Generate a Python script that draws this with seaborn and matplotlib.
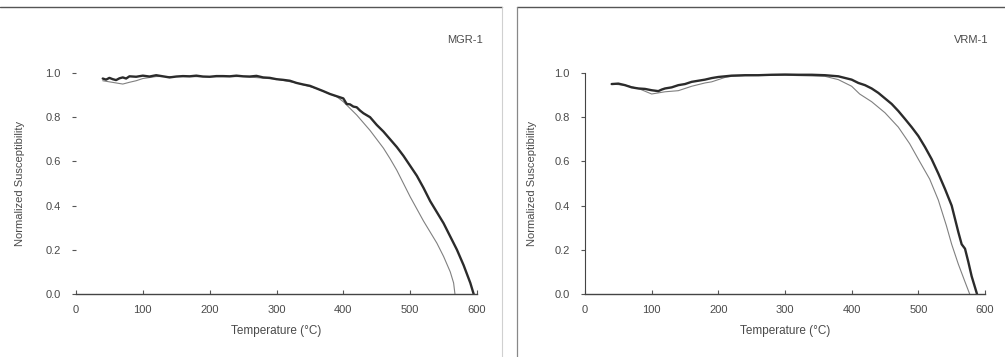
import numpy as np
import pandas as pd
import seaborn as sns
import matplotlib
matplotlib.use("Agg")
import matplotlib.pyplot as plt
from matplotlib.lines import Line2D

# MGR-1, heating (thick) and cooling (thin) curves
mgr_heat_t = [40, 45, 50, 55, 60, 65, 70, 75, 80, 90, 100, 110, 120, 130, 140, 150, 160, 170, 180, 190,
              200, 210, 220, 230, 240, 250, 260, 270, 280, 290, 300, 310, 320, 330, 340, 350, 360, 370,
              380, 390, 400, 405, 410, 415, 420, 425, 430, 440, 450, 460, 470, 480, 490, 500, 510, 520,
              530, 540, 550, 560, 570, 580, 585, 590, 595]
mgr_heat_k = [0.975, 0.970, 0.978, 0.972, 0.968, 0.976, 0.980, 0.975, 0.985, 0.983, 0.988, 0.984, 0.990,
              0.985, 0.980, 0.984, 0.986, 0.985, 0.988, 0.984, 0.983, 0.986, 0.986, 0.985, 0.988, 0.985,
              0.984, 0.987, 0.980, 0.978, 0.972, 0.969, 0.965, 0.955, 0.948, 0.942, 0.930, 0.918, 0.905,
              0.895, 0.885, 0.860, 0.858, 0.848, 0.845, 0.830, 0.818, 0.800, 0.765, 0.735, 0.700, 0.665,
              0.625, 0.580, 0.535, 0.480, 0.420, 0.370, 0.320, 0.260, 0.200, 0.130, 0.090, 0.050, 0.0]
mgr_cool_t = [40, 50, 60, 70, 80, 90, 100, 120, 150, 200, 250, 300, 330, 360, 380, 390, 400, 410, 420,
              430, 440, 450, 460, 470, 480, 490, 500, 510, 520, 530, 540, 550, 560, 565, 567]
mgr_cool_k = [0.965, 0.960, 0.955, 0.950, 0.958, 0.965, 0.975, 0.984, 0.984, 0.983, 0.984, 0.972, 0.955,
              0.930, 0.905, 0.893, 0.870, 0.840, 0.810, 0.775, 0.740, 0.700, 0.660, 0.612, 0.560, 0.500,
              0.440, 0.385, 0.330, 0.280, 0.230, 0.170, 0.100, 0.050, 0.0]

# VRM-1, heating (thick) and cooling (thin) curves
vrm_heat_t = [40, 50, 60, 70, 80, 90, 100, 105, 110, 115, 120, 130, 140, 150, 160, 170, 180, 190, 200,
              210, 220, 240, 260, 280, 300, 320, 340, 360, 380, 400, 410, 420, 430, 440, 450, 460, 470,
              480, 490, 500, 510, 520, 530, 540, 550, 555, 560, 565, 570, 575, 580, 585, 588]
vrm_heat_k = [0.950, 0.952, 0.945, 0.935, 0.930, 0.928, 0.922, 0.920, 0.918, 0.925, 0.930, 0.935, 0.945,
              0.950, 0.960, 0.965, 0.970, 0.977, 0.982, 0.985, 0.988, 0.990, 0.990, 0.992, 0.993, 0.992,
              0.992, 0.990, 0.985, 0.970, 0.955, 0.945, 0.930, 0.910, 0.885, 0.860, 0.828, 0.792, 0.755,
              0.715, 0.665, 0.610, 0.545, 0.475, 0.400, 0.340, 0.280, 0.225, 0.205, 0.145, 0.080, 0.030, 0.0]
vrm_cool_t = [40, 60, 80, 100, 110, 120, 140, 160, 180, 190, 200, 210, 220, 240, 300, 360, 380, 400, 412,
              430, 450, 470, 487, 500, 517, 530, 542, 550, 560, 570, 577]
vrm_cool_k = [0.950, 0.945, 0.930, 0.905, 0.910, 0.915, 0.920, 0.940, 0.955, 0.960, 0.970, 0.980, 0.985,
              0.988, 0.990, 0.985, 0.970, 0.940, 0.905, 0.870, 0.820, 0.755, 0.680, 0.610, 0.520, 0.425,
              0.310, 0.225, 0.135, 0.055, 0.0]

panels = ["MGR-1", "VRM-1"]
curves = {
    "MGR-1": ((mgr_heat_t, mgr_heat_k), (mgr_cool_t, mgr_cool_k)),
    "VRM-1": ((vrm_heat_t, vrm_heat_k), (vrm_cool_t, vrm_cool_k)),
}

sns.set_style("white")
plt.rcParams["font.family"] = ["Liberation Sans", "DejaVu Sans"]
txt = "#4a4a4a"

fig = plt.figure(figsize=(10.05, 3.57), dpi=100)
ax_l = fig.add_axes([76 / 1005, 63 / 357, 401 / 1005, 221 / 357])
ax_r = fig.add_axes([585 / 1005, 63 / 357, 400 / 1005, 221 / 357])

for ax, name in zip([ax_l, ax_r], panels):
    (ht, hk), (ct, ck) = curves[name]
    cool = pd.DataFrame({"T": ct, "k": ck})
    heat = pd.DataFrame({"T": ht, "k": hk})
    sns.lineplot(data=cool, x="T", y="k", ax=ax, color="#808080", lw=0.8, sort=False, estimator=None)
    sns.lineplot(data=heat, x="T", y="k", ax=ax, color="#2b2b2b", lw=1.7, sort=False, estimator=None)
    ax.set_xlim(0, 600)
    ax.set_ylim(0, 1.0)
    ax.set_xticks(np.arange(0, 601, 100))
    ax.set_yticks(np.arange(0, 1.01, 0.2))
    ax.set_yticklabels([f"{v:.1f}" for v in np.arange(0, 1.01, 0.2)])
    ax.tick_params(axis="x", bottom=True, direction="in", length=3, width=0.8, color="#555",
                   labelsize=8, labelcolor=txt, pad=8)
    ax.tick_params(axis="y", left=True, direction="out", length=3, width=0.8, color="#555",
                   labelsize=8, labelcolor=txt, pad=8)
    ax.set_xlabel("Temperature (°C)", fontsize=8.5, color=txt, labelpad=7)
    ax.set_ylabel("Normalized Susceptibility", fontsize=8, color=txt)
    for s in ["top", "right"]:
        ax.spines[s].set_visible(False)
    ax.spines["bottom"].set_color("#444")
    ax.spines["bottom"].set_linewidth(1.0)
    ax.spines["left"].set_color("#444")
    ax.spines["left"].set_linewidth(0.8)
    ax.patch.set_alpha(0)

ax_l.spines["left"].set_visible(False)
ax_l.yaxis.set_label_coords(-0.127, 0.5)
ax_r.yaxis.set_label_coords(-0.12, 0.5)

fig.text(483 / 1005, 1 - 40 / 357, "MGR-1", ha="right", va="center", fontsize=8, color=txt)
fig.text(988 / 1005, 1 - 40 / 357, "VRM-1", ha="right", va="center", fontsize=8, color=txt)

# panel frame lines
fig.add_artist(Line2D([0, 502 / 1005], [1 - 7 / 357] * 2, color="#555", lw=1.0))
fig.add_artist(Line2D([517 / 1005, 1], [1 - 7 / 357] * 2, color="#555", lw=1.0))
fig.add_artist(Line2D([502 / 1005] * 2, [0, 1 - 7 / 357], color="#d0d0d0", lw=0.8))
fig.add_artist(Line2D([517 / 1005] * 2, [0, 1 - 7 / 357], color="#888", lw=0.9))

fig.savefig("out.png", dpi=100)
